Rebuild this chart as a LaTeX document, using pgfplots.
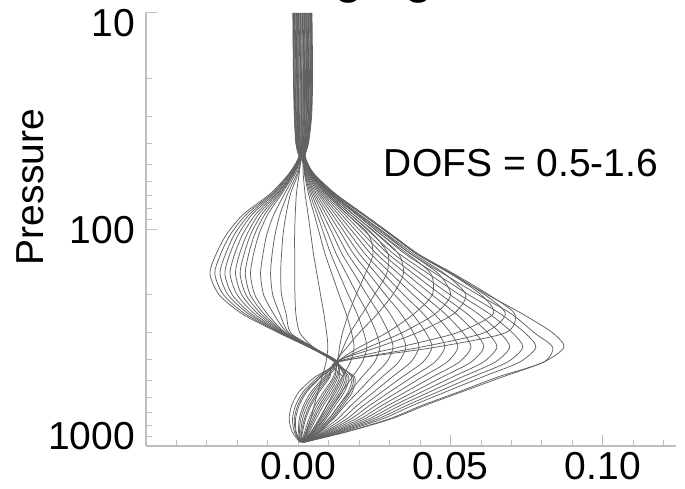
\documentclass[border=0pt]{standalone}
\usepackage{pgfplots}
\usepackage{pgfplotstable}
\pgfplotsset{compat=1.18}
\usepackage{fontspec}
\setmainfont{Liberation Sans}

\pgfplotstableread{
p l0 l1 l2 l3 l4 l5 l6 l7 c m93 m79 m64 m50
10 0.00004 -0.00023 -0.00049 -0.00075 -0.00101 -0.00128 -0.00154 -0.0018 0.0003 -0.0017 -0.0012 -0.0007 -0.0002
20 0.00024 -0.00003 -0.00029 -0.00055 -0.00081 -0.00108 -0.00134 -0.0016 0.0005 -0.0015 -0.001 -0.0005 0.0
30 0.00036 0.00011 -0.00012 -0.00036 -0.00059 -0.00083 -0.00107 -0.0013 0.00059 -0.0012 -0.0008 -0.0003 0.0001
40 0.00045 0.00027 0.0001 -0.00007 -0.00024 -0.00041 -0.00058 -0.0008 0.00061 -0.0007 -0.0004 -0.0001 0.0002
46 0.00082 0.00073 0.00064 0.00056 0.00047 0.00038 0.0003 0.0002 0.0009 0.0003 0.0004 0.0006 0.0007
55 0.0 -0.0004 -0.0009 -0.0013 -0.0017 -0.0021 -0.0026 -0.003 0.0003 -0.0028 -0.0024 -0.0019 -0.0015
68 -0.0025 -0.0034 -0.0044 -0.0053 -0.0062 -0.0071 -0.0081 -0.009 -0.0006 -0.0085 -0.0076 -0.0067 -0.0058
85 -0.004 -0.006 -0.008 -0.010 -0.012 -0.014 -0.016 -0.018 -0.001 -0.017 -0.0151 -0.013 -0.011
105 -0.005 -0.0076 -0.0103 -0.0129 -0.0156 -0.0182 -0.0209 -0.0235 -0.0012 -0.0222 -0.0196 -0.0168 -0.0143
130 -0.0055 -0.0086 -0.0116 -0.0147 -0.0178 -0.0209 -0.0239 -0.027 -0.0012 -0.0255 -0.0225 -0.0193 -0.0163
160 -0.0058 -0.0091 -0.0124 -0.0157 -0.0191 -0.0224 -0.0257 -0.029 -0.0012 -0.0274 -0.0241 -0.0206 -0.0174
200 -0.0055 -0.0084 -0.0114 -0.0143 -0.0172 -0.0201 -0.0231 -0.026 -0.0011 -0.0246 -0.0217 -0.0186 -0.0158
245 -0.004 -0.0061 -0.0081 -0.0102 -0.0123 -0.0144 -0.0164 -0.0185 -0.0008 -0.0175 -0.0155 -0.0133 -0.0113
300 -0.0025 -0.0031 -0.0036 -0.0042 -0.0048 -0.0054 -0.0059 -0.0065 0.0005 -0.0062 -0.0057 -0.0051 -0.0045
350 0.005 0.0048 0.0046 0.0044 0.0041 0.0039 0.0037 0.0035 0.005 0.0036 0.0038 0.004 0.0043
410 0.0122 0.0126 0.0120 0.0128 0.0124 0.0130 0.0121 0.0127 0.0125 0.0123 0.0129 0.0119 0.0126
480 0.0115 0.0075 0.0155 0.0055 0.0136 0.0095 0.0175 0.0125 0.015 0.009 0.013 0.0071 0.016
560 0.0084 0.0029 0.0138 0.0003 0.0112 0.0057 0.0164 0.0098 0.0131 0.005 0.0105 0.0024 0.0145
650 0.0055 0.0003 0.0107 -0.0022 0.0082 0.0030 0.0133 0.0069 0.0101 0.0023 0.0075 -0.0002 0.0114
750 0.0035 -0.0009 0.0079 -0.003 0.0058 0.0014 0.0101 0.0047 0.0074 0.0008 0.0052 -0.0013 0.0085
860 0.0021 -0.0007 0.0049 -0.002 0.0036 0.0008 0.0063 0.0029 0.0046 0.0004 0.0032 -0.0009 0.0053
960 0.0010 0.0007 0.0013 0.0005 0.0011 0.0008 0.0014 0.0010 0.0012 0.0008 0.0011 0.0006 0.0013
}\tabL

\pgfplotstableread{
p u1 u15 u2 u3 u35 u4 u5 u55 u6
10 0.00056 0.0007 0.00083 0.00109 0.0015 0.00135 0.00161 0.002 0.00187
20 0.00076 0.0009 0.00103 0.00129 0.0017 0.00155 0.00181 0.0022 0.00207
30 0.00082 0.00095 0.00107 0.0013 0.0016 0.00154 0.00177 0.0021 0.002
40 0.00078 0.0009 0.00096 0.00113 0.0014 0.0013 0.00147 0.0017 0.00164
46 0.00099 0.00105 0.00108 0.00116 0.0013 0.00125 0.00134 0.0015 0.00142
55 0.004 0.004 0.0045 0.0045 0.0047 0.0048 0.0048 0.0049 0.005
68 0.009 0.0095 0.010 0.0105 0.0108 0.011 0.0115 0.0118 0.012
85 0.016 0.017 0.018 0.019 0.0195 0.020 0.021 0.0212 0.0215
105 0.023 0.0245 0.026 0.027 0.028 0.029 0.030 0.0302 0.0305
130 0.0245 0.0295 0.033 0.036 0.037 0.038 0.039 0.0392 0.0395
160 0.022 0.029 0.0345 0.0435 0.046 0.048 0.050 0.0505 0.051
200 0.019 0.025 0.031 0.044 0.050 0.055 0.060 0.0612 0.0625
245 0.0165 0.021 0.026 0.038 0.045 0.051 0.064 0.068 0.071
300 0.0145 0.017 0.020 0.029 0.034 0.039 0.052 0.061 0.068
350 0.0135 0.0148 0.016 0.020 0.023 0.026 0.033 0.040 0.045
410 0.0125 0.0128 0.0125 0.0125 0.013 0.0125 0.0125 0.0132 0.0125
480 0.0065 0.012 0.0166 0.0085 0.018 0.0185 0.0104 0.01 0.0145
560 0.0017 0.0091 0.0152 0.0043 0.0171 0.0178 0.007 0.0064 0.0124
650 -0.0009 0.0062 0.0121 0.0017 0.014 0.0146 0.0042 0.0037 0.0094
750 -0.0019 0.0041 0.0091 0.0003 0.0107 0.0112 0.0024 0.002 0.0068
860 -0.0013 0.0025 0.0057 0.0001 0.0067 0.007 0.0014 0.0011 0.0042
960 0.0006 0.001 0.0014 0.0007 0.0015 0.0015 0.0009 0.0009 0.0012
}\tabU

\pgfplotstableread{
p d10 d20 d25 d30 d35 d40 d45 d50 d55 d60 d65 d70 d75 d80 d85 d90 d95 d100
10 0.00214 0.0024 0.0025 0.00266 0.0028 0.00292 0.0033 0.00319 -0.0005 0.00345 0.0038 0.00371 0.0041 0.00397 0.0043 0.00424 -0.0016 0.0045
20 0.00234 0.0026 0.0027 0.00286 0.003 0.00312 0.0035 0.00339 -0.0003 0.00365 0.004 0.00391 0.0043 0.00417 0.0045 0.00444 -0.0014 0.0047
30 0.00225 0.00248 0.0026 0.00271 0.0028 0.00295 0.0033 0.00319 -0.0001 0.00343 0.0037 0.00366 0.004 0.00389 0.0042 0.00414 -0.0011 0.00437
40 0.00181 0.00198 0.0021 0.00215 0.0022 0.00232 0.0026 0.00249 0.0001 0.00266 0.0029 0.00283 0.0031 0.003 0.0032 0.00318 -0.0007 0.00335
46 0.00151 0.0016 0.0016 0.00168 0.0017 0.00177 0.0019 0.00186 0.0006 0.00194 0.0021 0.00203 0.0022 0.00211 0.0022 0.0022 0.0003 0.00229
55 0.0016 0.002 0.0022 0.0023 0.0025 0.0027 0.0029 0.0031 0.0033 0.0035 0.0037 0.0039 0.0041 0.0042 0.0044 0.0046 0.0048 0.005
68 0.0022 0.0033 0.0038 0.0043 0.0048 0.0053 0.0058 0.0064 0.0069 0.0074 0.0079 0.0084 0.0089 0.0094 0.01 0.0105 0.011 0.0115
85 0.0032 0.0052 0.0062 0.0071 0.0081 0.0091 0.0101 0.0111 0.0121 0.0131 0.0141 0.0151 0.0161 0.017 0.018 0.019 0.02 0.021
105 0.0041 0.007 0.0084 0.0098 0.0113 0.0127 0.0142 0.0156 0.017 0.0185 0.0199 0.0214 0.0228 0.0242 0.0257 0.0271 0.0286 0.030
130 0.005 0.0088 0.0107 0.0125 0.0144 0.0163 0.0182 0.0201 0.022 0.0239 0.0258 0.0277 0.0296 0.0314 0.0333 0.0352 0.0371 0.039
160 0.0061 0.011 0.0134 0.0158 0.0183 0.0207 0.0232 0.0256 0.028 0.0305 0.0329 0.0354 0.0378 0.0402 0.0427 0.0451 0.0476 0.050
200 0.0073 0.0134 0.0164 0.0194 0.0225 0.0255 0.0286 0.0316 0.0346 0.0377 0.0407 0.0438 0.0468 0.0498 0.0529 0.0559 0.059 0.062
245 0.0084 0.0157 0.0193 0.0229 0.0265 0.0301 0.0337 0.0374 0.041 0.0446 0.0482 0.0518 0.0554 0.059 0.0627 0.0663 0.0699 0.0735
300 0.0093 0.0175 0.0215 0.0256 0.0297 0.0337 0.0378 0.0419 0.0459 0.05 0.0541 0.0581 0.0622 0.0662 0.0703 0.0744 0.0775 0.0835
350 0.0097 0.0183 0.0225 0.0268 0.0311 0.0353 0.0396 0.0439 0.0481 0.0524 0.0567 0.0609 0.0652 0.0694 0.0737 0.078 0.0835 0.0872
410 0.0091 0.0171 0.021 0.025 0.029 0.0329 0.0369 0.0409 0.0448 0.0488 0.0528 0.0567 0.0607 0.0646 0.0686 0.0726 0.0805 0.0805
480 0.0078 0.0144 0.0177 0.0209 0.0242 0.0275 0.0308 0.0341 0.0374 0.0407 0.044 0.0473 0.0506 0.0538 0.0571 0.0604 0.0655 0.067
560 0.0065 0.0118 0.0144 0.017 0.0197 0.0223 0.025 0.0276 0.0302 0.0329 0.0355 0.0382 0.0408 0.0434 0.0461 0.0487 0.053 0.054
650 0.0052 0.0093 0.0113 0.0133 0.0153 0.0173 0.0193 0.0214 0.0234 0.0254 0.0274 0.0294 0.0314 0.0334 0.0355 0.0375 0.0405 0.0415
750 0.0041 0.0071 0.0085 0.01 0.0115 0.0129 0.0144 0.0159 0.0173 0.0188 0.0203 0.0217 0.0232 0.0246 0.0261 0.0276 0.0298 0.0305
860 0.0027 0.0042 0.0049 0.0056 0.0064 0.0071 0.0079 0.0086 0.0093 0.01 0.0108 0.0116 0.0123 0.013 0.0138 0.0145 0.0156 0.016
960 0.0013 0.0014 0.0014 0.0014 0.0015 0.0015 0.0016 0.0016 0.0016 0.0017 0.0017 0.0018 0.0018 0.0018 0.0019 0.0019 0.002 0.002
}\tabD

\pgfplotsset{kern/.style={draw=black!62, line width=0.75pt, smooth, tension=0.45, no markers}}

\begin{document}
\begin{tikzpicture}
\begin{axis}[
  width=530pt, height=433pt, scale only axis,
  xmin=-0.05, xmax=0.124, ymin=10, ymax=1000,
  ymode=log, y dir=reverse,
  axis x line=bottom, axis y line=left,
  axis line style={-, draw=black!25, line width=1.2pt},
  xtick={0,0.05,0.1}, xticklabels={0.00,0.05,0.10},
  minor xtick={-0.04,-0.03,-0.02,-0.01,0.01,0.02,0.03,0.04,0.06,0.07,0.08,0.09,0.11,0.12},
  ytick={10,100,1000},
  yticklabels={\raisebox{-24pt}[0pt][0pt]{10},\raisebox{-14pt}[0pt][0pt]{100},\raisebox{-3pt}[0pt][0pt]{1000}},
  tick align=inside,
  major tick length=11pt, minor tick length=6pt,
  every tick/.style={draw=black!25, line width=1pt},
  tick label style={font=\fontsize{39}{39}\selectfont, inner sep=0pt},
  xticklabel style={yshift=-6pt},
  yticklabel style={xshift=-11pt},
  /pgf/number format/assume math mode=true,
]
\pgfplotsinvokeforeach{l0,l1,l2,l3,l4,l5,l6,l7,c,m93,m79,m64,m50}{\addplot[kern] table[x=#1,y=p]{\tabL};}
\pgfplotsinvokeforeach{u1,u15,u2,u3,u35,u4,u5,u55,u6}{\addplot[kern] table[x=#1,y=p]{\tabU};}
\pgfplotsinvokeforeach{d10,d20,d25,d30,d35,d40,d45,d50,d55,d60,d65,d70,d75,d80,d85,d90,d95,d100}{\addplot[kern] table[x=#1,y=p]{\tabD};}
\end{axis}
\node[font=\fontsize{39}{39}\selectfont, rotate=90] at (-116pt,259pt) {Pressure};
\node[font=\fontsize{39}{39}\selectfont] at (375pt,283pt) {DOFS = 0.5-1.6};
\node[font=\fontsize{52}{52}\selectfont, anchor=base] at (266pt,453.5pt) {Averaging Kernels};
\pgfresetboundingbox
\useasboundingbox (-146pt,-43pt) rectangle (539pt,446pt);
\end{tikzpicture}
\end{document}
